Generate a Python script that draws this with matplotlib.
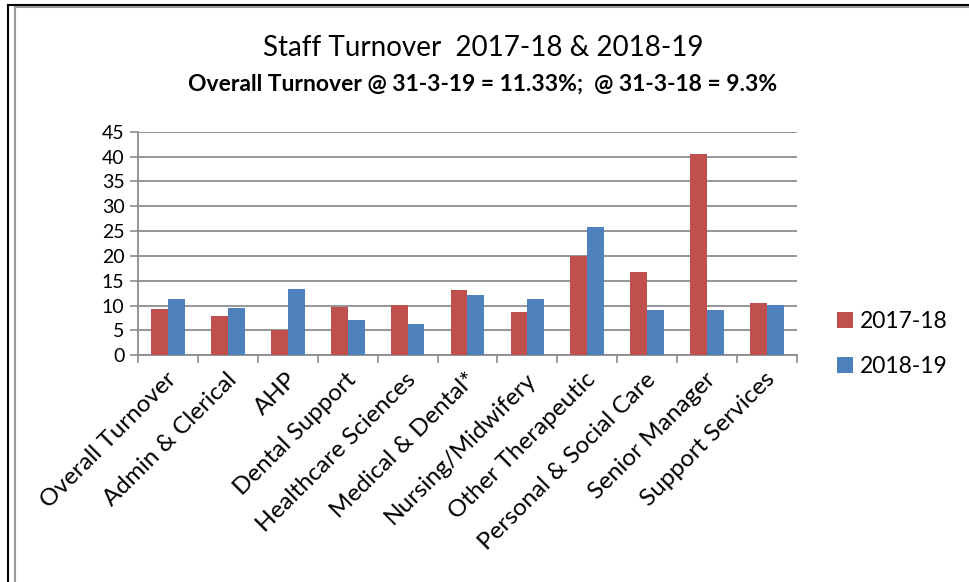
"""Staff turnover by staff group, 2017-18 vs 2018-19"""

import numpy as np
import matplotlib
matplotlib.use("Agg")
import matplotlib.pyplot as plt
import matplotlib.transforms as mtrans
from matplotlib.lines import Line2D

plt.rcParams['font.family'] = ['Lato', 'DejaVu Sans']

groups = ["Overall Turnover", "Admin & Clerical", "AHP", "Dental Support",
          "Healthcare Sciences", "Medical & Dental*", "Nursing/Midwifery",
          "Other Therapeutic", "Personal & Social Care", "Senior Manager",
          "Support Services"]
turnover_1718 = [9.3, 7.85, 5.0, 9.65, 10.2, 13.1, 8.65, 19.9, 16.7, 40.5, 10.5]
turnover_1819 = [11.33, 9.45, 13.3, 7.1, 6.35, 12.05, 11.25, 25.75, 9.2, 9.2, 10.1]
years = ["2017-18", "2018-19"]
yticks = [0, 5, 10, 15, 20, 25, 30, 35, 40, 45]

RED = "#C0504D"
BLUE = "#4F81BD"
GRID = "#8C8C8C"

fig = plt.figure(figsize=(9.69, 5.82), dpi=100)
ax = fig.add_axes([0.1427, 0.3895, 0.6795, 0.3842])

x = np.arange(len(groups))
w = 0.28
ax.bar(x - w / 2, turnover_1718, w, color=RED, label=years[0], zorder=3)
ax.bar(x + w / 2, turnover_1819, w, color=BLUE, label=years[1], zorder=3)

ax.set_xlim(-0.5, len(groups) - 0.5)
ax.set_ylim(0, 45)
ax.set_yticks(yticks)
ax.yaxis.grid(True, color=GRID, linewidth=1.3, zorder=0)
ax.set_axisbelow(True)

ax.set_xticks(x)
ax.set_xticklabels(groups, rotation=45, ha="right", va="center",
                   rotation_mode="anchor", fontsize=17.5)
ax.set_xticks(np.arange(len(groups) + 1) - 0.5, minor=True)
ax.tick_params(axis="x", which="major", length=0, pad=15)
ax.tick_params(axis="x", which="minor", length=6, width=1.2, color=GRID)
ax.tick_params(axis="y", length=6, width=1.2, color=GRID, labelsize=14,
               pad=4)

# nudge the slanted category names a little to the right
nudge = mtrans.ScaledTranslation(5 / 100, 0, fig.dpi_scale_trans)
for lbl in ax.get_xticklabels():
    lbl.set_transform(lbl.get_transform() + nudge)

for side in ("top", "right"):
    ax.spines[side].set_visible(False)
for side in ("left", "bottom"):
    ax.spines[side].set_color(GRID)
    ax.spines[side].set_linewidth(1.3)

fig.text(0.4985, 0.918, "Staff Turnover  2017-18 & 2018-19",
         ha="center", va="center", fontsize=20)
fig.text(0.4985, 0.856, "Overall Turnover @ 31-3-19 = 11.33%;  @ 31-3-18 = 9.3%",
         ha="center", va="center", fontsize=16.5, fontweight="bold")

fig.legend(loc="center left", bbox_to_anchor=(0.864, 0.409), frameon=False,
           fontsize=16.5, handlelength=0.7, handleheight=0.7,
           handletextpad=0.3, labelspacing=1.05, borderpad=0,
           borderaxespad=0)

# outer frame lines along the top and left
W, H = 969, 582
fig.add_artist(Line2D([8 / W, 8 / W], [0, 1 - 5 / H], color="black",
                      linewidth=1.5, transform=fig.transFigure))
fig.add_artist(Line2D([8 / W, 1], [1 - 5 / H, 1 - 5 / H], color="black",
                      linewidth=1.5, transform=fig.transFigure))
fig.add_artist(Line2D([15.5 / W, 15.5 / W], [0, 1 - 7 / H], color="#999999",
                      linewidth=1.5, transform=fig.transFigure))
fig.add_artist(Line2D([15.5 / W, 1], [1 - 7 / H, 1 - 7 / H], color="#999999",
                      linewidth=1.5, transform=fig.transFigure))

fig.savefig("out.png", dpi=100, facecolor="white")
